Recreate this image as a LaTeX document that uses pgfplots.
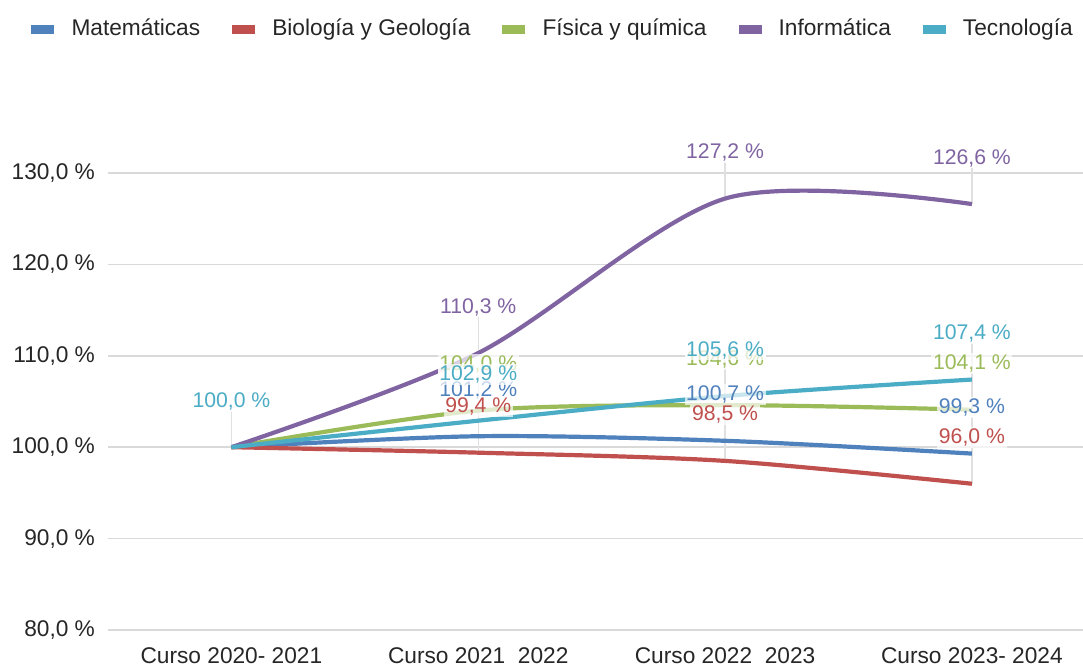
\documentclass[border=0pt]{standalone}
\usepackage{pgfplots}
\pgfplotsset{compat=1.18}
\usepackage{pgfplotstable}
\usepackage{fontspec}
\setmainfont{Liberation Sans}

\definecolor{cmat}{HTML}{4F81BD}
\definecolor{cbio}{HTML}{C0504D}
\definecolor{cfis}{HTML}{9BBB59}
\definecolor{cinf}{HTML}{8064A2}
\definecolor{ctec}{HTML}{4BACC6}
\definecolor{gridc}{HTML}{D9D9D9}

\pgfplotstableread{
x y
0 100.0
1 101.2
2 100.7
3 99.3
}\tmat
\pgfplotstableread{
x y
0 100.0
1 99.4
2 98.5
3 96.0
}\tbio
\pgfplotstableread{
x y
0 100.0
1 104.0
2 104.6
3 104.1
}\tfis
\pgfplotstableread{
x y
0 100.0
1 110.3
2 127.2
3 126.6
}\tinf
\pgfplotstableread{
x y
0 100.0
1 102.9
2 105.6
3 107.4
}\ttec

\newcommand{\leader}[2]{%
  \addplot[draw=none, mark=none, forget plot,
    error bars/.cd, y dir=plus, y fixed=4, error mark=none,
    error bar style={color=black!12, line width=0.6pt}] table[x=x,y=y,#2] {#1};}
\newcommand{\labels}[3]{%
  \addplot[draw=none, mark=none, forget plot, point meta=y,
    nodes near coords={\pgfmathprintnumber[fixed,fixed zerofill,precision=1,use comma]{\pgfplotspointmeta}\ \%},
    nodes near coords style={anchor=center, yshift=23pt, text=#2, font=\fontsize{10.6}{12}\selectfont,
      fill=white, fill opacity=0.7, text opacity=1, inner sep=0.8pt}] table[x=x,y=y,#3] {#1};}

\begin{document}
\begin{tikzpicture}
\begin{axis}[
  scale only axis,
  width=487.5pt, height=251.35pt,
  xmin=-0.5, xmax=3.45,
  ymin=80, ymax=135,
  xtick={0,1,2,3},
  xticklabels={Curso 2020- 2021, Curso 2021\ \ 2022, Curso 2022\ \ 2023, Curso 2023- 2024},
  ytick={80,90,...,130},
  yticklabel={\pgfmathprintnumber[fixed,fixed zerofill,precision=1,use comma]{\tick}\ \%},
  /pgf/number format/assume math mode=true,
  ymajorgrids, xmajorgrids=false,
  major grid style={color=gridc, line width=0.8pt},
  axis line style={draw=none},
  major tick length=0pt,
  tick label style={font=\fontsize{11.35}{13}\selectfont, text=black!85},
  xticklabel style={yshift=-5.5pt},
  yticklabel style={xshift=-3pt},
  clip=false,
  legend columns=5,
  legend style={at={(axis description cs:-0.0851,1.1955)}, anchor=west, draw=none, fill=none,
    font=\fontsize{11.35}{13}\selectfont, text=black!85,
    /tikz/every even column/.append style={column sep=14pt}},
  legend image code/.code={\fill[#1, draw=none] (0pt,-2.25pt) rectangle (11.5pt,2.25pt); \path (17pt,0pt);},
]
\leader{\ttec}{}
\leader{\tmat}{skip coords between index={0}{1}}
\leader{\tbio}{skip coords between index={0}{1}}
\leader{\tfis}{skip coords between index={0}{1}}
\leader{\tinf}{skip coords between index={0}{1}}

\addplot[cmat, line width=2.1pt, smooth, mark=none] table[x=x,y=y] {\tmat};
\addlegendentry{Matemáticas}
\addplot[cbio, line width=2.1pt, smooth, mark=none] table[x=x,y=y] {\tbio};
\addlegendentry{Biología y Geología}
\addplot[cfis, line width=2.1pt, smooth, mark=none] table[x=x,y=y] {\tfis};
\addlegendentry{Física y química}
\addplot[cinf, line width=2.1pt, smooth, mark=none] table[x=x,y=y] {\tinf};
\addlegendentry{Informática}
\addplot[ctec, line width=2.1pt, smooth, mark=none] table[x=x,y=y] {\ttec};
\addlegendentry{Tecnología}

\labels{\tmat}{cmat}{skip coords between index={0}{1}}
\labels{\tbio}{cbio}{skip coords between index={0}{1}}
\labels{\tfis}{cfis}{skip coords between index={0}{1}}
\labels{\tinf}{cinf}{skip coords between index={0}{1}}
\labels{\ttec}{ctec}{}

\coordinate (bl) at (rel axis cs:0,0);
\coordinate (tr) at (rel axis cs:1,1);
\end{axis}
\pgfresetboundingbox
\path ([shift={(-54pt,-18pt)}]bl) rectangle ([shift={(0pt,63.65pt)}]tr);
\end{tikzpicture}
\end{document}
